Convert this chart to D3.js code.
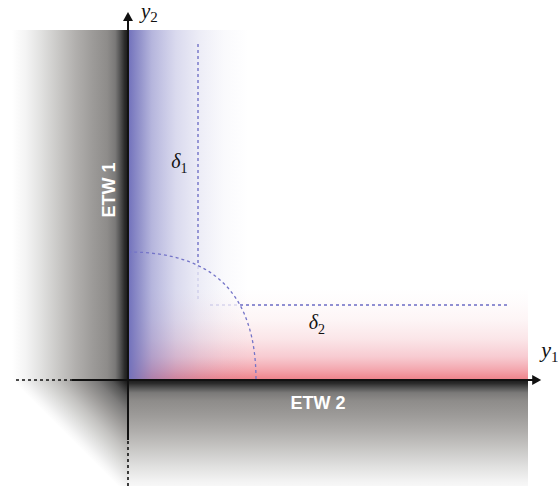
<!DOCTYPE html>
<html><head><meta charset="utf-8">
<script src="https://cdn.jsdelivr.net/npm/d3@7"></script>
<style>html,body{margin:0;padding:0;background:#fff;}svg{display:block;}</style>
</head><body>
<script>
// ---- data (diagram units; origin = corner of the two walls) ----
const domainX = [0, 100];
const domainY = [0, 87.5];
const axisNames = ["y", "y"];
const axisSubs = ["1", "2"];
const axisTips = [103.3, 92];          // arrow tips along y1 and y2
const axisSolidNeg = [-14, -15];       // solid extension behind the origin
const axisDashNeg = [-28, -26.5];      // dotted extension behind the origin
const wallNames = ["ETW 1", "ETW 2"];
const deltaNames = ["δ", "δ"];
const deltaSubs = ["1", "2"];
const deltaValues = [17.5, 18.75];     // boundary-layer thicknesses
const deltaLabelPos = [[10.8, 53], [45.2, 12.8]];
const deltaSpan1 = [20, 84];           // extent of δ1 guide (y2 range)
const deltaSpan2 = [20.5, 95.5];       // extent of δ2 guide (y1 range)
const arcRadius = 32;                  // corner region radius
const fadeBlue = 30, fadeRed = 23, fadeGray = 29;

const W = 558, H = 486;
const x = d3.scaleLinear().domain(domainX).range([128, 528]);
const y = d3.scaleLinear().domain(domainY).range([380, 30]);
const ux = x(1) - x(0);

const svg = d3.select("body").append("svg").attr("width", W).attr("height", H);
const defs = svg.append("defs");

const grayStops = [
  [0, "#1a1a1a"], [0.03, "#2c2c2c"], [0.07, "#555"], [0.11, "#7a7978"],
  [0.18, "#8e8c8a"], [0.3, "#9c9a98"], [0.45, "#b1afad"], [0.6, "#c9c8c6"],
  [0.75, "#e1e1e0"], [0.88, "#f4f4f4"], [1, "#ffffff"]
];
const cornerStops = [
  [0, "#111"], [0.06, "#2a2a2a"], [0.15, "#555"], [0.28, "#7d7c7b"],
  [0.45, "#a09e9c"], [0.62, "#c2c1bf"], [0.8, "#e0e0df"], [0.93, "#f6f6f6"], [1, "#ffffff"]
];
function grad(id, x1, y1, x2, y2, stops) {
  const g = defs.append("linearGradient").attr("id", id)
    .attr("gradientUnits", "userSpaceOnUse")
    .attr("x1", x1).attr("y1", y1).attr("x2", x2).attr("y2", y2);
  stops.forEach(s => g.append("stop").attr("offset", s[0]).attr("stop-color", s[1])
    .attr("stop-opacity", s[2] === undefined ? 1 : s[2]));
}
const gw = fadeGray * ux;
grad("gLeft", x(0), 0, x(0) - gw, 0, grayStops);
grad("gBottom", 0, y(0), 0, y(0) + gw, grayStops);
grad("gCorner", x(0), y(0), x(0) - gw / 2, y(0) + gw / 2, cornerStops);
grad("gBlue", x(0), 0, x(fadeBlue), 0, [
  [0, "#7070bb", 1], [0.1, "#7878be", 0.8], [0.2, "#7c7cc2", 0.56], [0.4, "#8282c6", 0.3],
  [0.6, "#8888c8", 0.15], [0.8, "#9090cc", 0.05], [1, "#9090cc", 0]
]);
grad("gRed", 0, y(0), 0, y(fadeRed), [
  [0, "#ee8088", 1], [0.12, "#f08c96", 0.75], [0.25, "#f096a2", 0.5], [0.45, "#f0a2ac", 0.27],
  [0.65, "#f0a8b0", 0.12], [0.85, "#f0b0b8", 0.04], [1, "#f0b0b8", 0]
]);

// gray walls
svg.append("rect").attr("x", x(0) - gw).attr("y", y(domainY[1])).attr("width", gw)
  .attr("height", y(0) - y(domainY[1])).attr("fill", "url(#gLeft)");
svg.append("rect").attr("x", x(0)).attr("y", y(0)).attr("width", x(domainX[1]) - x(0))
  .attr("height", gw).attr("fill", "url(#gBottom)");
svg.append("path").attr("d", `M${x(0)},${y(0)}L${x(0) - gw},${y(0)}L${x(0)},${y(0) + gw}Z`)
  .attr("fill", "url(#gCorner)");

// red and blue boundary layers
svg.append("rect").attr("x", x(0)).attr("y", y(fadeRed)).attr("width", x(domainX[1]) - x(0))
  .attr("height", y(0) - y(fadeRed)).attr("fill", "url(#gRed)");
svg.append("rect").attr("x", x(0)).attr("y", y(domainY[1])).attr("width", x(fadeBlue) - x(0))
  .attr("height", y(0) - y(domainY[1])).attr("fill", "url(#gBlue)");

// corner arc (quarter curve)
const k = 0.67;
const arcPath = d3.path();
arcPath.moveTo(x(0), y(arcRadius));
arcPath.bezierCurveTo(x(k * arcRadius), y(arcRadius), x(arcRadius), y(k * arcRadius), x(arcRadius), y(0));
const arcD = arcPath.toString();

const mask = defs.append("mask").attr("id", "outside");
mask.append("rect").attr("width", W).attr("height", H).attr("fill", "#fff");
mask.append("path").attr("d", arcD + `L${x(0)},${y(0)}Z`).attr("fill", "#000");

const guideColor = "#7474c8";
function guides(g) {
  g.append("line").attr("x1", x(deltaValues[0])).attr("x2", x(deltaValues[0]))
    .attr("y1", y(deltaSpan1[1])).attr("y2", y(deltaSpan1[0]));
  g.append("line").attr("y1", y(deltaValues[1])).attr("y2", y(deltaValues[1]))
    .attr("x1", x(deltaSpan2[0])).attr("x2", x(deltaSpan2[1]));
}
const gl = svg.append("g").attr("stroke", guideColor).attr("stroke-width", 1.3)
  .attr("stroke-dasharray", "3,3").attr("opacity", 0.25);
guides(gl);
const gd = svg.append("g").attr("stroke", guideColor).attr("stroke-width", 1.3)
  .attr("stroke-dasharray", "3,3").attr("mask", "url(#outside)");
guides(gd);
svg.append("path").attr("d", arcD).attr("fill", "none").attr("stroke", guideColor)
  .attr("stroke-width", 1.3).attr("stroke-dasharray", "3,3");

// axes
const ax = svg.append("g").attr("stroke", "#111").attr("stroke-width", 2).attr("fill", "none");
ax.append("line").attr("x1", x(axisSolidNeg[0])).attr("x2", x(axisTips[0]) - 6).attr("y1", y(0)).attr("y2", y(0));
ax.append("line").attr("y1", y(axisSolidNeg[1])).attr("y2", y(axisTips[1]) + 6).attr("x1", x(0)).attr("x2", x(0));
ax.append("line").attr("x1", x(axisDashNeg[0])).attr("x2", x(axisSolidNeg[0])).attr("y1", y(0)).attr("y2", y(0))
  .attr("stroke-width", 1.6).attr("stroke-dasharray", "3,3");
ax.append("line").attr("y1", y(axisDashNeg[1])).attr("y2", y(axisSolidNeg[1])).attr("x1", x(0)).attr("x2", x(0))
  .attr("stroke-width", 1.6).attr("stroke-dasharray", "3,3");
svg.append("path").attr("fill", "#111")
  .attr("d", `M${x(axisTips[0])},${y(0)}L${x(axisTips[0]) - 9},${y(0) - 5}L${x(axisTips[0]) - 9},${y(0) + 5}Z`);
svg.append("path").attr("fill", "#111")
  .attr("d", `M${x(0)},${y(axisTips[1])}L${x(0) - 5},${y(axisTips[1]) + 9}L${x(0) + 5},${y(axisTips[1]) + 9}Z`);

// axis labels
const serif = "'Liberation Serif','Times New Roman',serif";
function sublabel(px, py, main, sub, size, subSize, dx, dy) {
  const t = svg.append("text").attr("x", px).attr("y", py).attr("font-family", serif)
    .attr("font-style", "italic").attr("font-size", size).attr("fill", "#111");
  t.append("tspan").text(main);
  t.append("tspan").attr("font-style", "normal").attr("font-size", subSize).attr("dx", dx).attr("dy", dy).text(sub);
}
sublabel(x(axisTips[0]) + 0, y(0) - 23, axisNames[0], axisSubs[0], 22, 15, 0, 5);
sublabel(x(0) + 13, y(axisTips[1]) + 6, axisNames[1], axisSubs[1], 21, 15, 0, 4);
sublabel(x(deltaLabelPos[0][0]), y(deltaLabelPos[0][1]), deltaNames[0], deltaSubs[0], 20, 14, 0, 5);
sublabel(x(deltaLabelPos[1][0]), y(deltaLabelPos[1][1]), deltaNames[1], deltaSubs[1], 20, 14, 0, 5);

// wall labels
const sans = "'Liberation Sans',Arial,Helvetica,sans-serif";
svg.append("text").attr("transform", `translate(${x(0) - 13},${y(47.5)}) rotate(-90)`)
  .attr("text-anchor", "middle").attr("font-family", sans).attr("font-weight", "bold")
  .attr("font-size", 18).attr("fill", "#fff").text(wallNames[0]);
svg.append("text").attr("x", x(47.5)).attr("y", y(0) + 29)
  .attr("text-anchor", "middle").attr("font-family", sans).attr("font-weight", "bold")
  .attr("font-size", 18).attr("fill", "#fff").text(wallNames[1]);
</script>
</body></html>
